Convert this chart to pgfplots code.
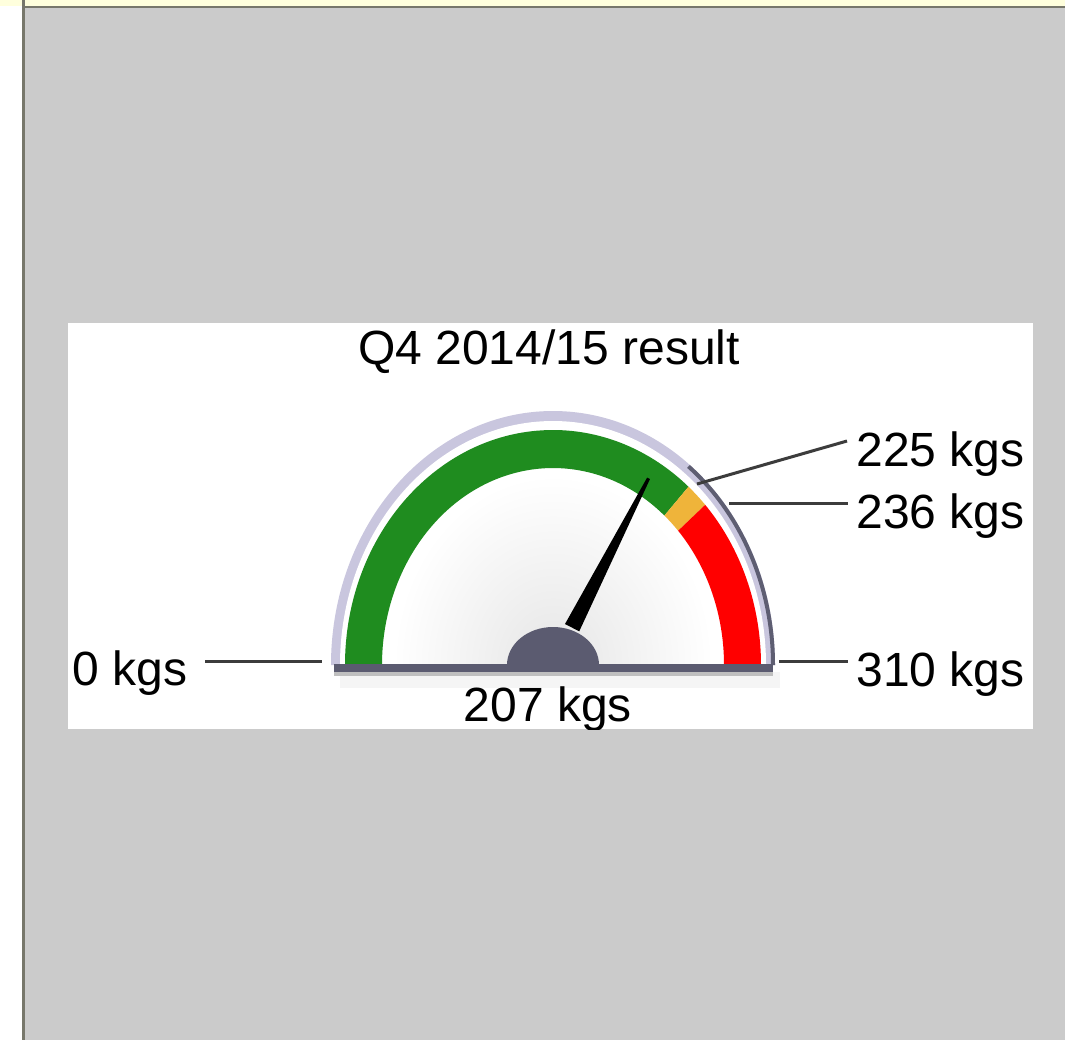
\documentclass[border=0pt]{standalone}
\usepackage{pgfplots}
\pgfplotsset{compat=1.18}
\usepackage{fontspec}
\setmainfont{Liberation Sans}
\usetikzlibrary{calc}
\definecolor{bggray}{HTML}{CBCBCB}
\definecolor{frameline}{HTML}{77776B}
\definecolor{topyellow}{HTML}{FFFFDD}
\definecolor{gGreen}{HTML}{1F8C1F}
\definecolor{gYellow}{HTML}{EFB43A}
\definecolor{gRed}{HTML}{FF0000}
\definecolor{hub}{HTML}{5B5B70}
\definecolor{rim}{HTML}{C9C6DE}
\definecolor{rimdark}{HTML}{5E5E72}
\definecolor{leader}{HTML}{3C3C3C}

% gauge data (kgs)
\def\gmin{0}
\def\gmax{310}
\def\gA{225}
\def\gB{236}
\def\gval{207}

\begin{document}
\begin{tikzpicture}[lbl/.style={inner sep=0, font=\fontsize{24}{28}\selectfont}]
\pgfmathsetmacro\aA{180-180/(\gmax-\gmin)*(\gA-\gmin)}
\pgfmathsetmacro\aB{180-180/(\gmax-\gmin)*(\gB-\gmin)}
\pgfmathsetmacro\aN{180-180/(\gmax-\gmin)*(\gval-\gmin)}
\begin{axis}[
  scale only axis, width=532.5pt, height=520pt,
  xmin=0, xmax=1065, ymin=0, ymax=1040, y dir=reverse,
  hide axis, clip=false]
% page background
\fill[white] (axis cs:0,0) rectangle (axis cs:1065,1040);
\fill[topyellow] (axis cs:0,0) rectangle (axis cs:1065,6);
\fill[bggray] (axis cs:24,8) rectangle (axis cs:1065,1040);
\fill[frameline] (axis cs:22,6) rectangle (axis cs:1065,8);
\fill[frameline] (axis cs:22,0) rectangle (axis cs:25,1040);
% white panel
\fill[white] (axis cs:68,323) rectangle (axis cs:1033,729);
\begin{scope}
\clip (axis cs:68,323) rectangle (axis cs:1033,729);
\coordinate (C) at (axis cs:553,665);
% soft shadow under gauge
\fill[black!4] (axis cs:340,672) rectangle (axis cs:780,688);
% rim
\fill[rim] ($(C)+(180:111pt and 127pt)$) arc[start angle=180,end angle=0,x radius=111pt,y radius=127pt] -- cycle;
\draw[rimdark,line width=2pt] ($(C)+(52:110pt and 126pt)$) arc[start angle=52,end angle=0,x radius=110pt,y radius=126pt];
\fill[white] ($(C)+(180:106.5pt and 122pt)$) arc[start angle=180,end angle=0,x radius=106.5pt,y radius=122pt] -- cycle;
% face shading
\begin{scope}
\clip ($(C)+(180:86pt and 99pt)$) arc[start angle=180,end angle=0,x radius=86pt,y radius=99pt] -- cycle;
\shade[inner color=black!10, outer color=white] (C) ellipse[x radius=80pt, y radius=95pt];
\end{scope}
% bands
\fill[gGreen] ($(C)+(180:104pt and 117.5pt)$) arc[start angle=180,end angle=\aA,x radius=104pt,y radius=117.5pt]
  -- ($(C)+(\aA:85.5pt and 98.5pt)$) arc[start angle=\aA,end angle=180,x radius=85.5pt,y radius=98.5pt] -- cycle;
\fill[gYellow] ($(C)+(\aA:104pt and 117.5pt)$) arc[start angle=\aA,end angle=\aB,x radius=104pt,y radius=117.5pt]
  -- ($(C)+(\aB:85.5pt and 98.5pt)$) arc[start angle=\aB,end angle=\aA,x radius=85.5pt,y radius=98.5pt] -- cycle;
\fill[gRed] ($(C)+(\aB:104pt and 117.5pt)$) arc[start angle=\aB,end angle=0,x radius=104pt,y radius=117.5pt]
  -- ($(C)+(0:85.5pt and 98.5pt)$) arc[start angle=0,end angle=\aB,x radius=85.5pt,y radius=98.5pt] -- cycle;
% base bar
\fill[hub] (axis cs:334,664) rectangle (axis cs:773,672);
\fill[black!25] (axis cs:334,672) rectangle (axis cs:773,676);
% needle
\coordinate (T) at ($(C)+(\aN:95pt and 108pt)$);
\coordinate (B) at ($(C)!0.2!(T)$);
\fill[black] ($(B)!4pt!90:(T)$) -- ($(T)!0.8pt!-90:(B)$) -- ($(T)!0.8pt!90:(B)$) -- ($(B)!4pt!-90:(T)$) -- cycle;
% hub
\fill[hub] ($(C)+(180:23pt and 19pt)$) arc[start angle=180,end angle=0,x radius=23pt,y radius=19pt] -- cycle;
% leader lines
\draw[leader,line width=1.5pt] (axis cs:205,661) -- (axis cs:322,661);
\draw[leader,line width=1.5pt] (axis cs:779,661) -- (axis cs:848,661);
\draw[leader,line width=1.5pt] (axis cs:729,503) -- (axis cs:848,503);
\draw[leader,line width=1.5pt] (axis cs:697,484) -- (axis cs:847,441);
% texts
\node[lbl,anchor=base] at (axis cs:549,364) {Q4 2014/15 result};
\node[lbl,anchor=base west] at (axis cs:72,685) {0 kgs};
\node[lbl,anchor=base west] at (axis cs:856,686) {310 kgs};
\node[lbl,anchor=base west] at (axis cs:856,528) {236 kgs};
\node[lbl,anchor=base west] at (axis cs:856,466) {225 kgs};
\node[lbl,anchor=base] at (axis cs:548,721) {207 kgs};
\end{scope}
\end{axis}
\end{tikzpicture}
\end{document}
